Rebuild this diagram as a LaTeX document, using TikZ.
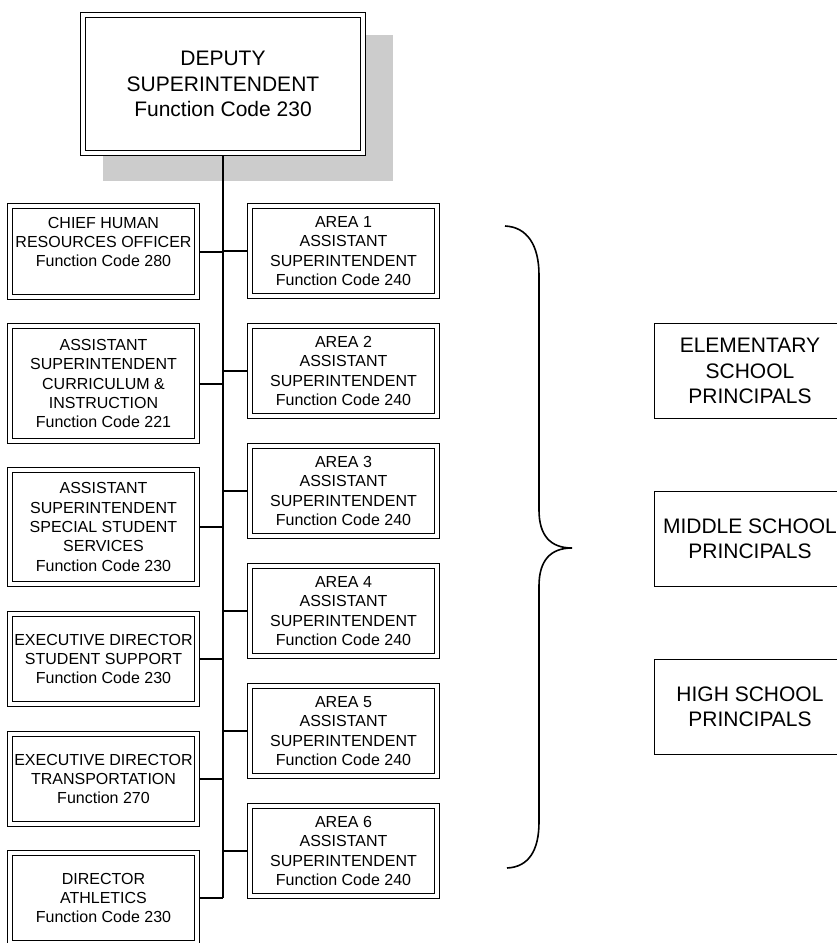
\documentclass[tikz,border=0pt]{standalone}
\usepackage{fontspec}
\setmainfont{Liberation Sans}
\definecolor{shadowgray}{RGB}{204,204,204}
\tikzset{%
    unit/.style={draw, double, double distance=2.6pt, line width=1pt, fill=white, align=center,
        inner sep=0pt, outer sep=2.3pt, minimum width=140pt, minimum height=67.4pt,
        font=\fontsize{12}{14.5}\selectfont},
    head/.style={unit, minimum width=210pt, minimum height=103.4pt,
        font=\fontsize{15.75}{19.1}\selectfont},
    grp/.style={draw, line width=1pt, align=center, minimum width=143pt, minimum height=71pt,
        font=\fontsize{15.75}{19.1}\selectfont},
    lnk/.style={line width=1.5pt}
}

\begin{document}
\begin{tikzpicture}[x=0.75pt,y=-0.75pt]
    \useasboundingbox (0,0) rectangle (836,943);
    \fill [shadowgray] (103,35) rectangle (393,181);
    \node [head] (dep) at (223,84) {DEPUTY\\SUPERINTENDENT\\Function Code 230};
    \node [unit, minimum height=68.2pt] (hr) at (103.5,251.5) {CHIEF HUMAN\\RESOURCES OFFICER\\Function Code 280\\\mbox{}};
    \node [unit, minimum height=86.2pt] (ci) at (103.5,383.5) {ASSISTANT\\SUPERINTENDENT\\CURRICULUM \&\\INSTRUCTION\\Function Code 221};
    \node [unit, minimum height=85.4pt] (sss) at (103.5,527) {ASSISTANT\\SUPERINTENDENT\\SPECIAL STUDENT\\SERVICES\\Function Code 230};
    \node [unit] (ess) at (103.5,659) {EXECUTIVE DIRECTOR\\STUDENT SUPPORT\\Function Code 230};
    \node [unit] (etr) at (103.5,779) {EXECUTIVE DIRECTOR\\TRANSPORTATION\\Function 270};
    \node [unit] (ath) at (103.5,898) {DIRECTOR\\ATHLETICS\\Function Code 230};
    \node [unit] (a1) at (343.5,251) {AREA 1\\ASSISTANT\\SUPERINTENDENT\\Function Code 240};
    \node [unit] (a2) at (343.5,371) {AREA 2\\ASSISTANT\\SUPERINTENDENT\\Function Code 240};
    \node [unit] (a3) at (343.5,491) {AREA 3\\ASSISTANT\\SUPERINTENDENT\\Function Code 240};
    \node [unit] (a4) at (343.5,611) {AREA 4\\ASSISTANT\\SUPERINTENDENT\\Function Code 240};
    \node [unit] (a5) at (343.5,731) {AREA 5\\ASSISTANT\\SUPERINTENDENT\\Function Code 240};
    \node [unit] (a6) at (343.5,851) {AREA 6\\ASSISTANT\\SUPERINTENDENT\\Function Code 240};
    \node [grp] (elem) at (750,371) {ELEMENTARY\\SCHOOL\\PRINCIPALS};
    \node [grp] (mid) at (750,539) {MIDDLE SCHOOL\\PRINCIPALS};
    \node [grp] (high) at (750,707) {HIGH SCHOOL\\PRINCIPALS};
    \coordinate (trunk) at (dep.south |- ath.east);
    \draw [lnk] (dep.south) -- (trunk);
    \draw [lnk] (hr.east) -- (hr.east -| trunk) (ci.east) -- (ci.east -| trunk) (sss.east) -- (sss.east -| trunk)
        (ess.east) -- (ess.east -| trunk) (etr.east) -- (etr.east -| trunk) (ath.east) -- (trunk);
    \draw [lnk] (a1.west) -- (a1.west -| trunk) (a2.west) -- (a2.west -| trunk) (a3.west) -- (a3.west -| trunk)
        (a4.west) -- (a4.west -| trunk) (a5.west) -- (a5.west -| trunk) (a6.west) -- (a6.west -| trunk);
    \draw [line width=1.2pt] (505,226) .. controls (527,227) and (539,245) .. (539,275) -- (539,510)
        .. controls (539,535) and (550,548) .. (572,548) .. controls (550,548) and (539,561) .. (539,586)
        -- (539,822) .. controls (539,850) and (529,867) .. (507,868);
\end{tikzpicture}
\end{document}
